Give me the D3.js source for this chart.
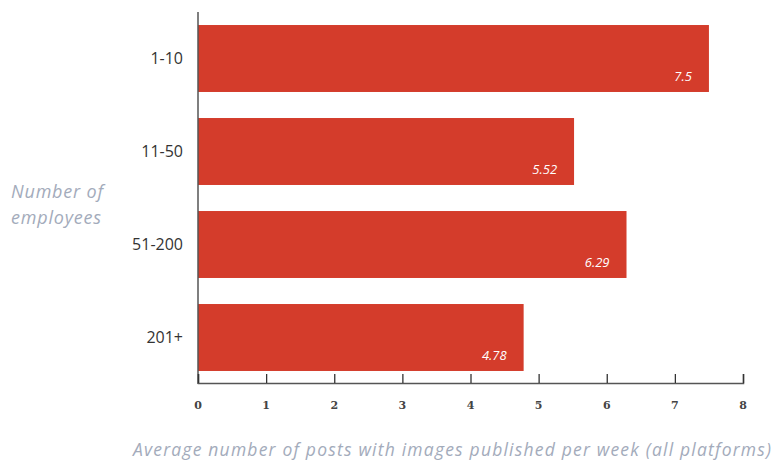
<!DOCTYPE html>
<html><head><meta charset="utf-8">
<script src="https://cdn.jsdelivr.net/npm/d3@7"></script>
<style>body{margin:0;background:#fff;}</style>
</head><body>
<svg id="c" width="774" height="461"></svg>
<script>
const categories = ["1-10", "11-50", "51-200", "201+"];
const values = [7.5, 5.52, 6.29, 4.78];
const valueLabels = ["7.5", "5.52", "6.29", "4.78"];
const xTicks = [0, 1, 2, 3, 4, 5, 6, 7, 8];
const yTitle = ["Number of", "employees"];
const xTitle = "Average number of posts with images published per week (all platforms)";

const svg = d3.select("#c");
const x = d3.scaleLinear().domain([0, 8]).range([198, 743]);
const y = d3.scaleBand().domain(categories).range([12, 384]).paddingInner(0.28).paddingOuter(0.14);

svg.selectAll("rect.bar").data(values).join("rect")
  .attr("x", x(0)).attr("y", (d, i) => y(categories[i]))
  .attr("width", d => x(d) - x(0)).attr("height", y.bandwidth())
  .attr("fill", "#d43c2b");

svg.selectAll("text.val").data(values).join("text")
  .attr("x", d => x(d) - 17).attr("y", (d, i) => y(categories[i]) + y.bandwidth() - 11)
  .attr("text-anchor", "end").attr("fill", "#fff")
  .attr("font-family", "'Open Sans', sans-serif").attr("font-style", "italic").attr("font-size", 13)
  .text((d, i) => valueLabels[i]);

// y axis
const ya = svg.append("g").attr("transform", `translate(${x(0)},0)`)
  .call(d3.axisLeft(y).tickSize(0).tickPadding(15));
ya.select(".domain").attr("d", "M0,12V384").attr("stroke", "#555").attr("stroke-width", 1.5);
ya.selectAll("text").attr("font-family", "'Open Sans', sans-serif").attr("font-size", 16).attr("fill", "#333");

// x axis
const xa = svg.append("g").attr("transform", "translate(0,383)")
  .call(d3.axisTop(x).tickValues(xTicks).tickSize(9).tickSizeOuter(9));
xa.select(".domain").attr("stroke", "#555").attr("stroke-width", 1.5);
xa.selectAll(".tick line").attr("stroke", "#333").attr("stroke-width", 1.3);
xa.selectAll("text").remove();
svg.append("g").selectAll("text").data(xTicks).join("text")
  .attr("x", d => x(d)).attr("y", 409).attr("text-anchor", "middle")
  .attr("font-family", "'DejaVu Serif', Georgia, serif").attr("font-weight", "bold")
  .attr("font-size", 11).attr("fill", "#444").text(d => d);

// titles
svg.append("text").attr("font-family", "'Open Sans', sans-serif").attr("font-style", "italic")
  .attr("font-size", 18).attr("letter-spacing", 0.8).attr("fill", "#a3abbb")
  .selectAll("tspan").data(yTitle).join("tspan")
  .attr("x", 11).attr("y", (d, i) => 198 + i * 26).text(d => d);

svg.append("text").attr("x", 133).attr("y", 456)
  .attr("textLength", 638).attr("lengthAdjust", "spacing")
  .attr("font-family", "'Open Sans', sans-serif").attr("font-style", "italic")
  .attr("font-size", 17.5).attr("fill", "#a3abbb").text(xTitle);
</script>
</body></html>
